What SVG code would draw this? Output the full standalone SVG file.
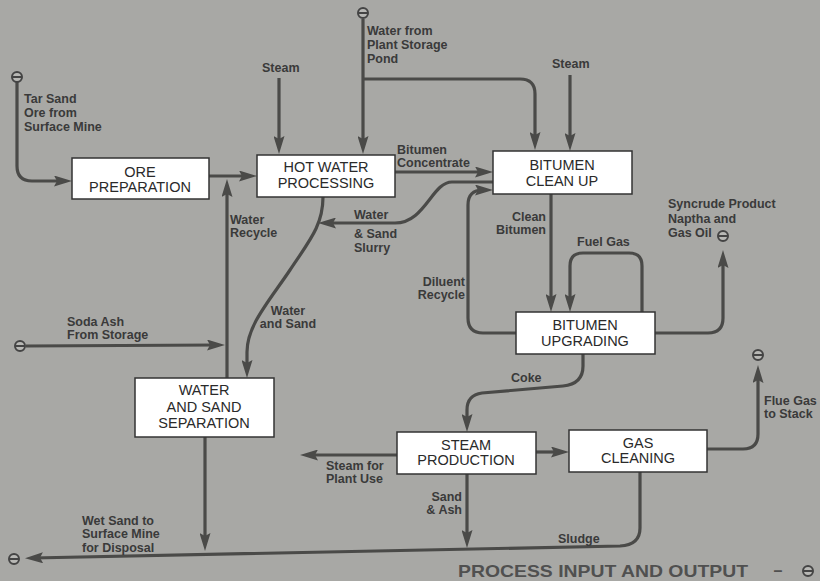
<svg xmlns="http://www.w3.org/2000/svg" width="820" height="581" viewBox="0 0 820 581">
<style>
.bg{fill:#a8a8a5}
.box{fill:#ffffff;stroke:#333333;stroke-width:1.5}
.bt{font-family:"Liberation Sans",Arial,sans-serif;font-size:14.5px;fill:#2a2a2a;text-anchor:middle}
.lb{font-family:"Liberation Sans",Arial,sans-serif;font-size:12.5px;font-weight:bold;fill:#3a3a3a}
.ln{fill:none;stroke:#4a4a48;stroke-width:3.2;marker-end:url(#ah)}
.term{fill:#b8b8b5;stroke:#444;stroke-width:2}
.bar{stroke:#444;stroke-width:2}
</style>
<defs>
<marker id="ah" viewBox="0 0 18 11" refX="10" refY="5.5" markerWidth="18" markerHeight="11" markerUnits="userSpaceOnUse" orient="auto">
<path d="M0,0 L18,5.5 L0,11 L3,5.5 Z" fill="#4a4a48"/>
</marker>
<g id="tm"><circle r="5" class="term"/><line x1="-4" y1="0" x2="4" y2="0" class="bar"/></g>
</defs>
<rect class="bg" x="0" y="0" width="820" height="581"/>

<g id="connectors">
<path class="ln" d="M17,82 V166 Q17,181 32,181 H64"/>
<path class="ln" d="M209,176 H249"/>
<path class="ln" d="M227,378 V187"/>
<path class="ln" d="M26,346 L217,345"/>
<path class="ln" d="M279,78 V146"/>
<path class="ln" d="M363,19 V146"/>
<path class="ln" d="M363,79 H520 Q535,79 535,94 V142"/>
<path class="ln" d="M570,75 V143"/>
<path class="ln" d="M395,172 H485"/>
<path class="ln" d="M493,182 H452 C432,182 425,223 395,223 H326"/>
<path class="ln" d="M516,333 H483 Q468,333 468,318 V205 Q468,190 483,190 H485"/>
<path class="ln" d="M551,194 V304"/>
<path class="ln" d="M642,312 V266 Q642,253 629,253 H583 Q570,253 570,266 V304"/>
<path class="ln" d="M655,333 H708 Q723,333 723,318 V258"/>
<path class="ln" d="M583,354 V366 Q583,384 563,386 L482,393 Q467,395 467,410 V424"/>
<path class="ln" d="M536,452 H561"/>
<path class="ln" d="M397,455 H308"/>
<path class="ln" d="M467,474 V540"/>
<path class="ln" d="M707,449 H743 Q758,449 758,434 V373"/>
<path class="ln" d="M640,472 V528 Q640,545 620,546 L33,558"/>
<path class="ln" d="M205,437 V543"/>
<path class="ln" d="M323,197 C323,225 310,240 290,270 C270,300 247,325 247,352 V370"/>
</g>

<g id="terminals">
<use href="#tm" x="17" y="77"/>
<use href="#tm" x="20" y="346"/>
<use href="#tm" x="363" y="13"/>
<use href="#tm" x="723" y="236"/>
<use href="#tm" x="758" y="355"/>
<use href="#tm" x="14" y="559"/>
<use href="#tm" x="808" y="571"/>
</g>

<g id="ore-preparation">
<rect class="box" x="72" y="158" width="137" height="41"/>
<text class="bt" x="140" y="177">ORE</text>
<text class="bt" x="140" y="192">PREPARATION</text>
</g>
<g id="hot-water-processing">
<rect class="box" x="257" y="155" width="138" height="42"/>
<text class="bt" x="326" y="172">HOT WATER</text>
<text class="bt" x="326" y="188">PROCESSING</text>
</g>
<g id="bitumen-clean-up">
<rect class="box" x="493" y="151" width="139" height="43"/>
<text class="bt" x="562" y="170">BITUMEN</text>
<text class="bt" x="562" y="186">CLEAN UP</text>
</g>
<g id="bitumen-upgrading">
<rect class="box" x="516" y="312" width="139" height="42"/>
<text class="bt" x="585" y="330">BITUMEN</text>
<text class="bt" x="585" y="346">UPGRADING</text>
</g>
<g id="water-and-sand-separation">
<rect class="box" x="135" y="378" width="139" height="59"/>
<text class="bt" x="204" y="395">WATER</text>
<text class="bt" x="204" y="412">AND SAND</text>
<text class="bt" x="204" y="428">SEPARATION</text>
</g>
<g id="steam-production">
<rect class="box" x="397" y="432" width="139" height="42"/>
<text class="bt" x="466" y="450">STEAM</text>
<text class="bt" x="466" y="465">PRODUCTION</text>
</g>
<g id="gas-cleaning">
<rect class="box" x="569" y="430" width="138" height="42"/>
<text class="bt" x="638" y="448">GAS</text>
<text class="bt" x="638" y="463">CLEANING</text>
</g>

<g id="labels">
<text class="lb" x="24" y="103">Tar Sand</text>
<text class="lb" x="24" y="117">Ore from</text>
<text class="lb" x="24" y="131">Surface Mine</text>
<text class="lb" x="262" y="72">Steam</text>
<text class="lb" x="367" y="35">Water from</text>
<text class="lb" x="367" y="49">Plant Storage</text>
<text class="lb" x="367" y="63">Pond</text>
<text class="lb" x="397" y="154">Bitumen</text>
<text class="lb" x="397" y="167">Concentrate</text>
<text class="lb" x="552" y="68">Steam</text>
<text class="lb" x="546" y="221" text-anchor="end">Clean</text>
<text class="lb" x="546" y="234" text-anchor="end">Bitumen</text>
<text class="lb" x="354" y="219">Water</text>
<text class="lb" x="354" y="238">&amp; Sand</text>
<text class="lb" x="354" y="252">Slurry</text>
<text class="lb" x="230" y="224">Water</text>
<text class="lb" x="230" y="237">Recycle</text>
<text class="lb" x="288" y="315" text-anchor="middle">Water</text>
<text class="lb" x="288" y="328" text-anchor="middle">and Sand</text>
<text class="lb" x="465" y="286" text-anchor="end">Diluent</text>
<text class="lb" x="465" y="299" text-anchor="end">Recycle</text>
<text class="lb" x="577" y="246">Fuel Gas</text>
<text class="lb" x="668" y="208">Syncrude Product</text>
<text class="lb" x="668" y="223">Naptha and</text>
<text class="lb" x="668" y="237">Gas Oil</text>
<text class="lb" x="67" y="326">Soda Ash</text>
<text class="lb" x="67" y="339">From Storage</text>
<text class="lb" x="511" y="382">Coke</text>
<text class="lb" x="326" y="470">Steam for</text>
<text class="lb" x="326" y="483">Plant Use</text>
<text class="lb" x="462" y="501" text-anchor="end">Sand</text>
<text class="lb" x="462" y="514" text-anchor="end">&amp; Ash</text>
<text class="lb" x="558" y="543">Sludge</text>
<text class="lb" x="764" y="405">Flue Gas</text>
<text class="lb" x="764" y="418">to Stack</text>
<text class="lb" x="82" y="525">Wet Sand to</text>
<text class="lb" x="82" y="538">Surface Mine</text>
<text class="lb" x="82" y="552">for Disposal</text>
</g>

<g id="title">
<text x="458" y="577" font-family="Liberation Sans,Arial,sans-serif" font-size="17" font-weight="bold" fill="#505050" textLength="290" lengthAdjust="spacingAndGlyphs">PROCESS INPUT AND OUTPUT</text>
<text x="778" y="576" font-family="Liberation Sans,Arial,sans-serif" font-size="16" font-weight="bold" fill="#505050" text-anchor="middle">–</text>
</g>
</svg>
